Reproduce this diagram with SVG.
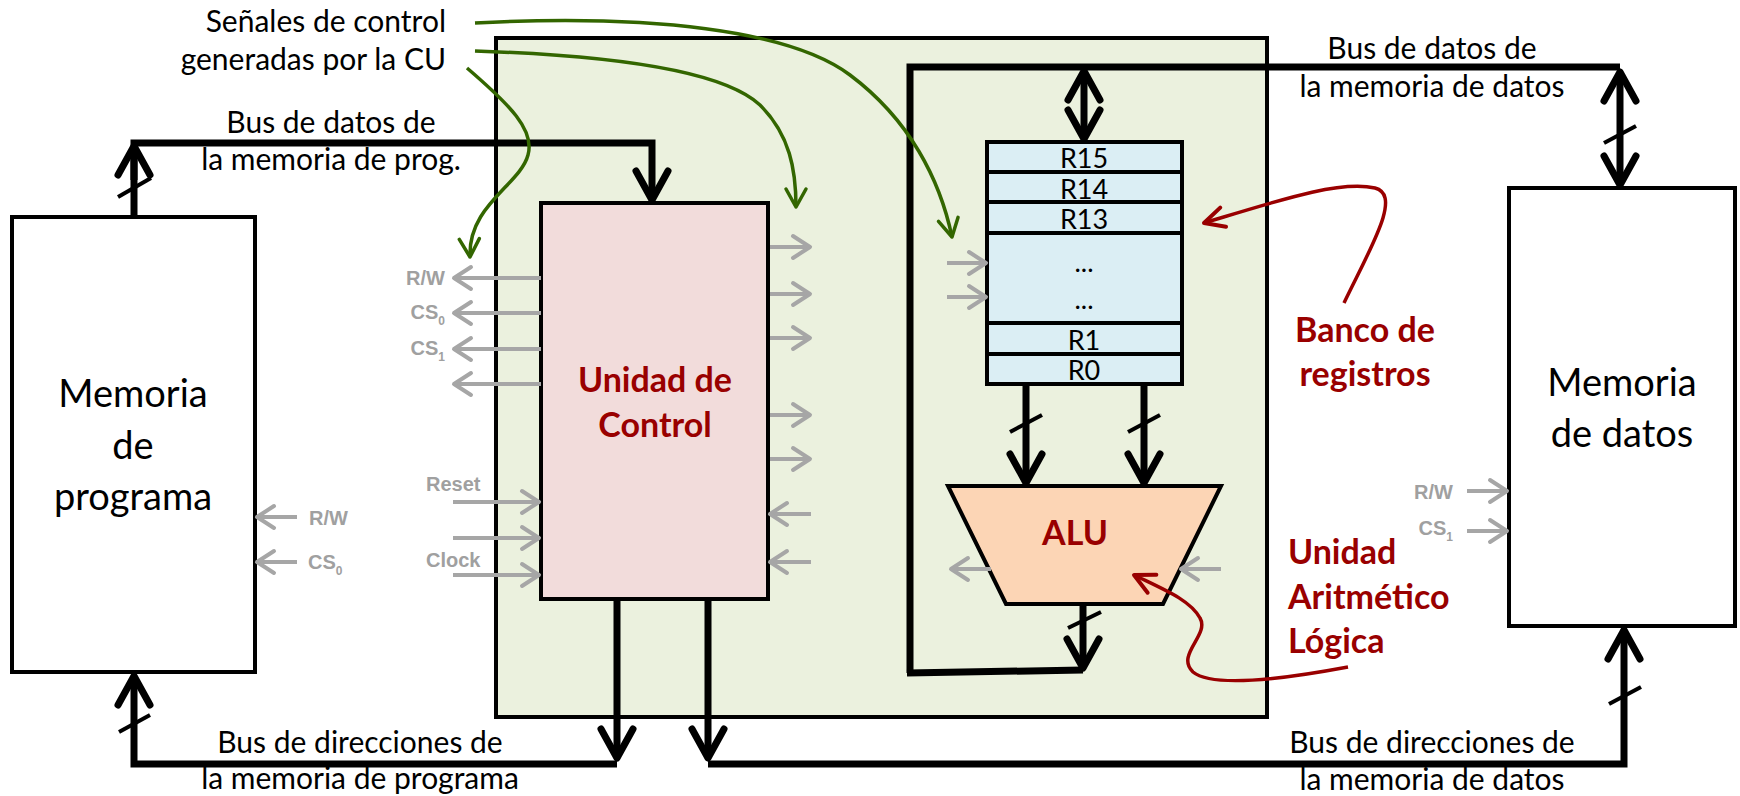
<svg xmlns="http://www.w3.org/2000/svg" width="1740" height="796" viewBox="0 0 1740 796">
<style>
  .t { font-family: Lato, "Open Sans", sans-serif; fill: #000; }
  .lbl { font-size: 30px; }
  .big { font-size: 38px; }
  .reg { font-size: 27px; }
  .red { font-family: Lato, "Open Sans", sans-serif; font-weight: bold; fill: #990000; font-size: 34px; }
  .sig { font-family: "Liberation Sans", Arial, sans-serif; font-weight: bold; fill: #A0A0A0; font-size: 20px; }
  .sub { font-size: 12px; }
  .box { stroke: #000; stroke-width: 4; stroke-linejoin: miter; }
  .bus { fill: none; stroke: #000; stroke-width: 7; stroke-linejoin: miter; }
  .slash { stroke: #000; stroke-width: 4; }
  .gsig { fill: none; stroke: #A6A6A6; stroke-width: 4; marker-end: url(#grayArr); }
  .green { fill: none; stroke: #336600; stroke-width: 3.5; marker-end: url(#greenArr); }
  .redc { fill: none; stroke: #990000; stroke-width: 3.5; marker-end: url(#redArr); }
</style>
<defs>
  <marker id="busArr" markerUnits="userSpaceOnUse" viewBox="-36 -22 42 44" markerWidth="42" markerHeight="44" refX="0" refY="0" orient="auto-start-reverse" overflow="visible">
    <path d="M-29,-16 L0,0 L-29,16" fill="none" stroke="#000" stroke-width="7" stroke-linecap="round" stroke-linejoin="round"/>
  </marker>
  <marker id="grayArr" markerUnits="userSpaceOnUse" viewBox="-24 -16 28 32" markerWidth="28" markerHeight="32" refX="0" refY="0" orient="auto" overflow="visible">
    <path d="M-17,-11 L0,0 L-17,11" fill="none" stroke="#A6A6A6" stroke-width="4" stroke-linecap="round" stroke-linejoin="round"/>
  </marker>
  <marker id="greenArr" markerUnits="userSpaceOnUse" viewBox="-24 -16 28 32" markerWidth="28" markerHeight="32" refX="0" refY="0" orient="auto" overflow="visible">
    <path d="M-18,-10 L0,0 L-18,10" fill="none" stroke="#336600" stroke-width="3.5" stroke-linecap="round" stroke-linejoin="round"/>
  </marker>
  <marker id="redArr" markerUnits="userSpaceOnUse" viewBox="-24 -16 28 32" markerWidth="28" markerHeight="32" refX="0" refY="0" orient="auto" overflow="visible">
    <path d="M-20,-10 L0,0 L-20,10" fill="none" stroke="#990000" stroke-width="4" stroke-linecap="round" stroke-linejoin="round"/>
  </marker>
</defs>

<rect width="1740" height="796" fill="#fff"/>

<g id="cpu">
  <rect x="496" y="38" width="771" height="679" fill="#EBF1DE" class="box"/>
</g>

<g id="prog-mem">
  <rect x="12" y="217" width="243" height="455" fill="#fff" class="box"/>
  <text class="t big" text-anchor="middle" x="133" y="407">Memoria</text>
  <text class="t big" text-anchor="middle" x="133" y="459">de</text>
  <text class="t big" text-anchor="middle" x="133" y="510">programa</text>
</g>

<g id="data-mem">
  <rect x="1509" y="188" width="226" height="438" fill="#fff" class="box"/>
  <text class="t big" text-anchor="middle" x="1622" y="396">Memoria</text>
  <text class="t big" text-anchor="middle" x="1622" y="447">de datos</text>
</g>

<g id="control-unit">
  <rect x="541" y="203" width="227" height="396" fill="#F2DCDB" class="box"/>
  <text class="red" text-anchor="middle" x="655" y="392">Unidad de</text>
  <text class="red" text-anchor="middle" x="655" y="437">Control</text>
</g>

<g id="reg-bank">
  <rect x="987" y="142" width="195" height="242" fill="#DBEEF4" class="box"/>
  <g stroke="#000" stroke-width="4">
    <line x1="987" y1="172" x2="1182" y2="172"/>
    <line x1="987" y1="202" x2="1182" y2="202"/>
    <line x1="987" y1="233" x2="1182" y2="233"/>
    <line x1="987" y1="323" x2="1182" y2="323"/>
    <line x1="987" y1="354" x2="1182" y2="354"/>
  </g>
  <g class="t reg" text-anchor="middle">
    <text x="1084" y="168">R15</text>
    <text x="1084" y="199">R14</text>
    <text x="1084" y="229">R13</text>
    <text x="1084" y="272">...</text>
    <text x="1084" y="309">...</text>
    <text x="1084" y="350">R1</text>
    <text x="1084" y="380">R0</text>
  </g>
</g>

<g id="alu">
  <polygon points="948,486 1221,486 1163,604 1006,604" fill="#FCD5B5" class="box"/>
  <text class="red" text-anchor="middle" x="1075" y="545">ALU</text>
</g>

<g id="connectors">
  <!-- program memory data bus -->
  <polyline class="bus" points="134,217 134,143 652,143 652,200" marker-end="url(#busArr)"/>
  <line class="bus" x1="134" y1="180" x2="134" y2="146" marker-end="url(#busArr)"/>
  <line class="slash" x1="118" y1="197" x2="151" y2="178"/>
  <!-- data memory data bus -->
  <polyline class="bus" points="910,673 910,67 1620,67"/>
  <line class="bus" x1="1620" y1="72" x2="1620" y2="185" marker-start="url(#busArr)" marker-end="url(#busArr)"/>
  <line class="slash" x1="1604" y1="143" x2="1636" y2="126"/>
  <line class="bus" x1="1084" y1="71" x2="1084" y2="139" marker-start="url(#busArr)" marker-end="url(#busArr)"/>
  <!-- register outputs to ALU -->
  <line class="bus" x1="1026" y1="384" x2="1026" y2="483" marker-end="url(#busArr)"/>
  <line class="slash" x1="1010" y1="432" x2="1042" y2="415"/>
  <line class="bus" x1="1144" y1="384" x2="1144" y2="483" marker-end="url(#busArr)"/>
  <line class="slash" x1="1128" y1="432" x2="1160" y2="415"/>
  <!-- ALU output -->
  <line class="bus" x1="1083" y1="604" x2="1083" y2="668" marker-end="url(#busArr)"/>
  <line class="slash" x1="1068" y1="628" x2="1101" y2="612"/>
  <line class="bus" x1="907" y1="673" x2="1083" y2="670"/>
  <!-- address buses -->
  <line class="bus" x1="617" y1="599" x2="617" y2="758" marker-end="url(#busArr)"/>
  <polyline class="bus" points="617,764 134,764 134,676" marker-end="url(#busArr)"/>
  <line class="slash" x1="119" y1="732" x2="150" y2="715"/>
  <line class="bus" x1="708" y1="599" x2="708" y2="758" marker-end="url(#busArr)"/>
  <polyline class="bus" points="708,764 1624,764 1624,630" marker-end="url(#busArr)"/>
  <line class="slash" x1="1609" y1="704" x2="1641" y2="687"/>

  <!-- gray control signals -->
  <line class="gsig" x1="541" y1="278" x2="454" y2="278"/>
  <line class="gsig" x1="541" y1="313" x2="454" y2="313"/>
  <line class="gsig" x1="541" y1="349" x2="454" y2="349"/>
  <line class="gsig" x1="541" y1="384" x2="454" y2="384"/>
  <line class="gsig" x1="453" y1="502" x2="539" y2="502"/>
  <line class="gsig" x1="453" y1="538" x2="539" y2="538"/>
  <line class="gsig" x1="453" y1="575" x2="539" y2="575"/>
  <line class="gsig" x1="770" y1="247" x2="810" y2="247"/>
  <line class="gsig" x1="770" y1="294" x2="810" y2="294"/>
  <line class="gsig" x1="770" y1="338" x2="810" y2="338"/>
  <line class="gsig" x1="770" y1="415" x2="810" y2="415"/>
  <line class="gsig" x1="770" y1="459" x2="810" y2="459"/>
  <line class="gsig" x1="811" y1="514" x2="770" y2="514"/>
  <line class="gsig" x1="811" y1="562" x2="770" y2="562"/>
  <line class="gsig" x1="947" y1="263" x2="986" y2="263"/>
  <line class="gsig" x1="947" y1="297" x2="986" y2="297"/>
  <line class="gsig" x1="991" y1="569" x2="951" y2="569"/>
  <line class="gsig" x1="1221" y1="569" x2="1181" y2="569"/>
  <line class="gsig" x1="297" y1="517" x2="257" y2="517"/>
  <line class="gsig" x1="297" y1="562" x2="257" y2="562"/>
  <line class="gsig" x1="1467" y1="491" x2="1507" y2="491"/>
  <line class="gsig" x1="1467" y1="531" x2="1507" y2="531"/>

  <!-- green annotation curves -->
  <path class="green" d="M475,23 C650,14 790,30 850,75 C910,120 940,180 952,237"/>
  <path class="green" d="M475,51 C600,55 720,68 760,105 C790,135 796,170 796,207"/>
  <path class="green" d="M467,68 C510,105 535,130 528,155 C520,185 468,205 470,257"/>

  <!-- red annotation curves -->
  <path class="redc" d="M1344,303 C1372,245 1402,195 1375,188 C1340,180 1280,200 1204,223"/>
  <path class="redc" d="M1348,667 C1300,676 1215,690 1193,672 C1175,655 1210,635 1200,618 C1190,600 1165,590 1134,575"/>
</g>

<g id="labels">
  <text class="t lbl" text-anchor="end" x="446" y="32">Señales de control</text>
  <text class="t lbl" text-anchor="end" x="446" y="70">generadas por la CU</text>
  <text class="t lbl" text-anchor="middle" x="331" y="133">Bus de datos de</text>
  <text class="t lbl" text-anchor="middle" x="331" y="170">la memoria de prog.</text>
  <text class="t lbl" text-anchor="middle" x="1432" y="59">Bus de datos de</text>
  <text class="t lbl" text-anchor="middle" x="1432" y="97">la memoria de datos</text>
  <text class="t lbl" text-anchor="middle" x="360" y="753">Bus de direcciones de</text>
  <text class="t lbl" text-anchor="middle" x="360" y="789">la memoria de programa</text>
  <text class="t lbl" text-anchor="middle" x="1432" y="753">Bus de direcciones de</text>
  <text class="t lbl" text-anchor="middle" x="1432" y="790">la memoria de datos</text>

  <text class="red" text-anchor="middle" x="1365" y="342">Banco de</text>
  <text class="red" text-anchor="middle" x="1365" y="386">registros</text>
  <text class="red" x="1288" y="564">Unidad</text>
  <text class="red" x="1288" y="609">Aritmético</text>
  <text class="red" x="1288" y="653">Lógica</text>

  <text class="sig" text-anchor="end" x="445" y="285">R/W</text>
  <text class="sig" text-anchor="end" x="445" y="319">CS<tspan class="sub" dy="6">0</tspan></text>
  <text class="sig" text-anchor="end" x="445" y="355">CS<tspan class="sub" dy="6">1</tspan></text>
  <text class="sig" x="426" y="491">Reset</text>
  <text class="sig" x="426" y="567">Clock</text>
  <text class="sig" x="309" y="525">R/W</text>
  <text class="sig" x="308" y="569">CS<tspan class="sub" dy="6">0</tspan></text>
  <text class="sig" text-anchor="end" x="1453" y="499">R/W</text>
  <text class="sig" text-anchor="end" x="1453" y="535">CS<tspan class="sub" dy="6">1</tspan></text>
</g>
</svg>
